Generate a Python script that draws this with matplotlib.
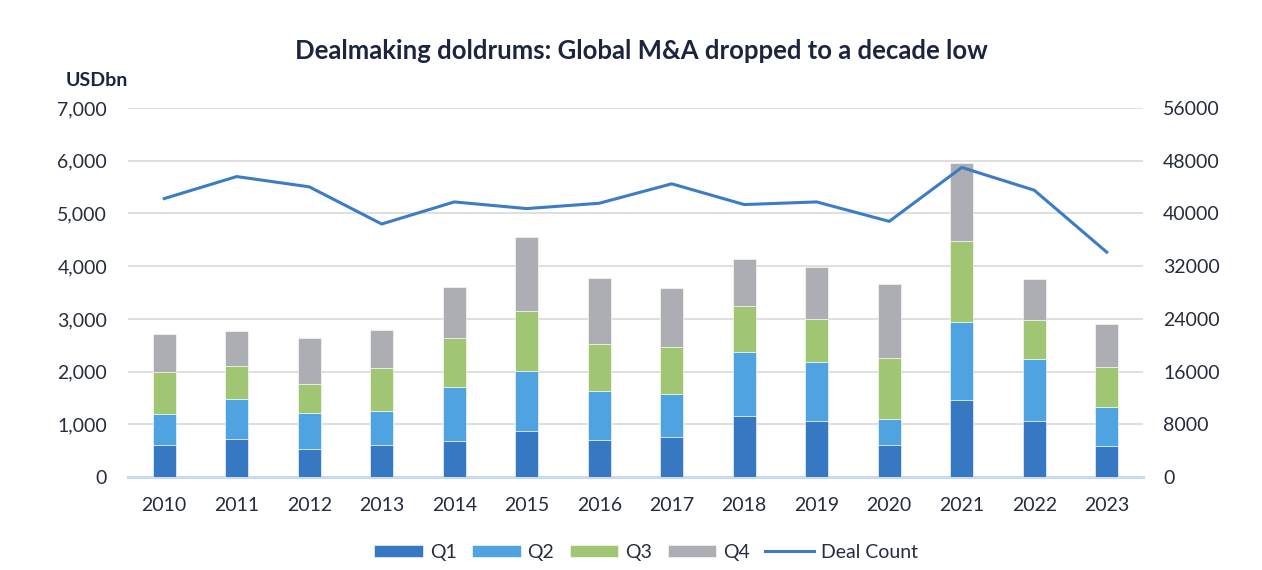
import matplotlib.pyplot as plt
import numpy as np

years = ["2010", "2011", "2012", "2013", "2014", "2015", "2016",
         "2017", "2018", "2019", "2020", "2021", "2022", "2023"]
q1 = [600, 725, 535, 605, 680, 870, 705, 755, 1160, 1065, 605, 1455, 1065, 585]
q2 = [605, 755, 680, 655, 1020, 1145, 920, 820, 1220, 1120, 490, 1480, 1170, 750]
q3 = [780, 630, 560, 805, 945, 1135, 895, 895, 870, 810, 1160, 1545, 750, 750]
q4 = [725, 655, 870, 725, 965, 1405, 1265, 1115, 895, 995, 1405, 1485, 770, 825]
deal_count = [42260, 45600, 44040, 38400, 41750, 40740, 41550,
              44500, 41350, 41750, 38800, 46980, 43530, 34130]

plt.rcParams['font.family'] = ['Lato', 'DejaVu Sans']
txt = "#262b40"

fig = plt.figure(figsize=(12.62, 5.7), dpi=100)
ax = fig.add_axes([0.1014, 0.163, 0.8043, 0.6475])
ax2 = ax.twinx()

x = np.arange(len(years))
w = 0.313
colors = ["#3778c2", "#4ea3e0", "#a1c673", "#adaeb3"]
bottom = np.zeros(len(years))
handles = []
for vals, col, lab in zip([q1, q2, q3, q4], colors, ["Q1", "Q2", "Q3", "Q4"]):
    b = ax.bar(x, vals, w, bottom=bottom, color=col, edgecolor="white",
               linewidth=0.4, label=lab, zorder=3)
    bottom += np.array(vals)
    handles.append(b)

ln, = ax2.plot(x, deal_count, color="#3b7cc4", linewidth=2.2, label="Deal Count")
handles.append(ln)

ax.set_xlim(-0.5, len(years) - 0.5)
ax.set_ylim(0, 7000)
ax.set_yticks(range(0, 7001, 1000))
ax.set_yticklabels([f"{v:,}" for v in range(0, 7001, 1000)])
ax2.set_ylim(0, 56000)
ax2.set_yticks(range(0, 56001, 8000))
ax.grid(axis="y", color="#d9d9d9", linewidth=1.2, zorder=0)
ax.set_axisbelow(True)
ax.set_xticks(x)
ax.set_xticklabels(years)

for a in (ax, ax2):
    for s in a.spines.values():
        s.set_visible(False)
ax.spines["bottom"].set_visible(True)
ax.spines["bottom"].set_color("#c6d9f5")
ax.spines["bottom"].set_linewidth(2.2)

ax.tick_params(axis="y", length=0, pad=15, labelsize=14, labelcolor=txt)
ax.tick_params(axis="x", length=0, pad=14, labelsize=14, labelcolor=txt)
ax2.tick_params(axis="y", length=0, pad=14.5, labelsize=14, labelcolor=txt)

fig.text(0.508, 0.91, "Dealmaking doldrums: Global M&A dropped to a decade low",
         ha="center", va="center", fontsize=18.5, fontweight="bold", color="#1c2440")
fig.text(0.052, 0.858, "USDbn", ha="left", va="center", fontsize=14,
         fontweight="bold", color="#1c2440")

fig.legend(handles, ["Q1", "Q2", "Q3", "Q4", "Deal Count"], loc="center",
           bbox_to_anchor=(0.512, 0.031), ncol=5, frameon=False, fontsize=14,
           handlelength=2.5, handleheight=0.55, columnspacing=0.8, handletextpad=0.35,
           labelcolor=txt)

fig.savefig("out.png", dpi=100)
